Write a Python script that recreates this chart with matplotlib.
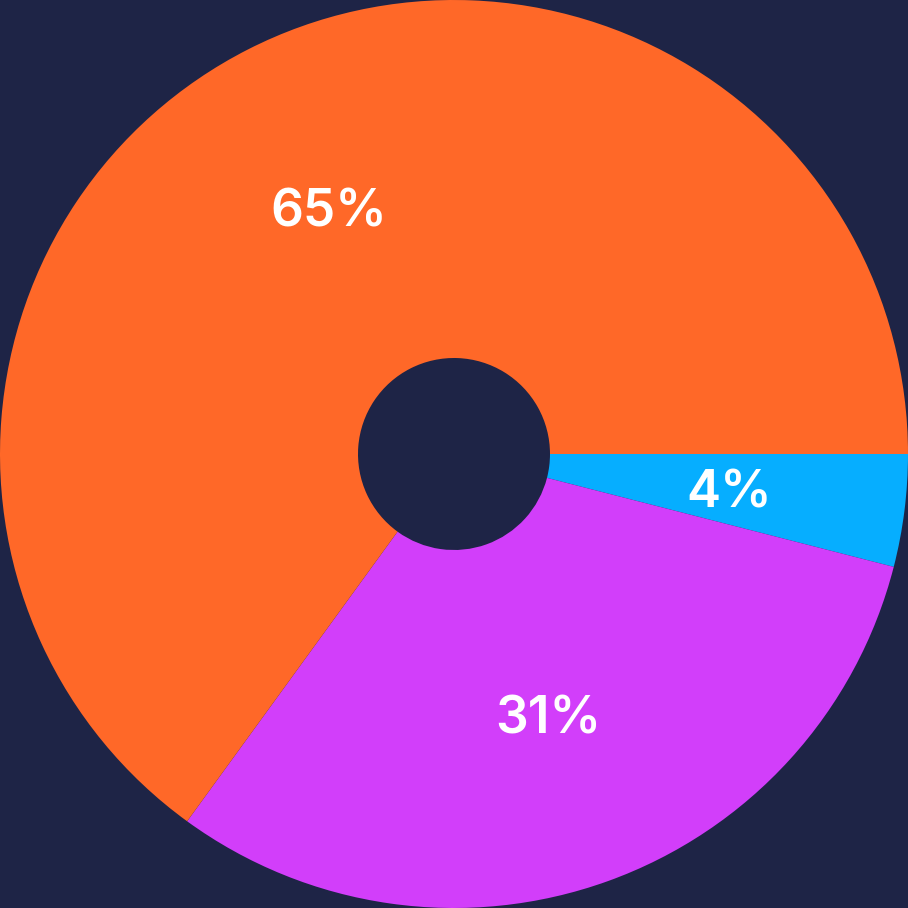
import matplotlib.pyplot as plt

labels = ["4%", "31%", "65%"]
shares = [4, 31, 65]
colors = ["#06AEFF", "#D23EFA", "#FF6828"]
bg = "#1E2446"

fig = plt.figure(figsize=(9.08, 9.08), dpi=100, facecolor=bg)
ax = fig.add_axes([0, 0, 1, 1])
ax.set_facecolor(bg)

wedges, texts = ax.pie(shares, colors=colors, startangle=0, counterclock=False,
                       radius=1.0, labels=labels, labeldistance=0.61,
                       wedgeprops=dict(width=1 - 96 / 454, linewidth=0),
                       textprops=dict(color="white", fontsize=37, fontweight="semibold",
                                      family=["Inter", "DejaVu Sans"]))
for t in texts:
    t.set_horizontalalignment("center")
    t.set_verticalalignment("center_baseline")

ax.set_xlim(-1, 1)
ax.set_ylim(-1, 1)
ax.set_aspect("equal")
ax.axis("off")
fig.savefig("out.png", dpi=100, facecolor=bg)
